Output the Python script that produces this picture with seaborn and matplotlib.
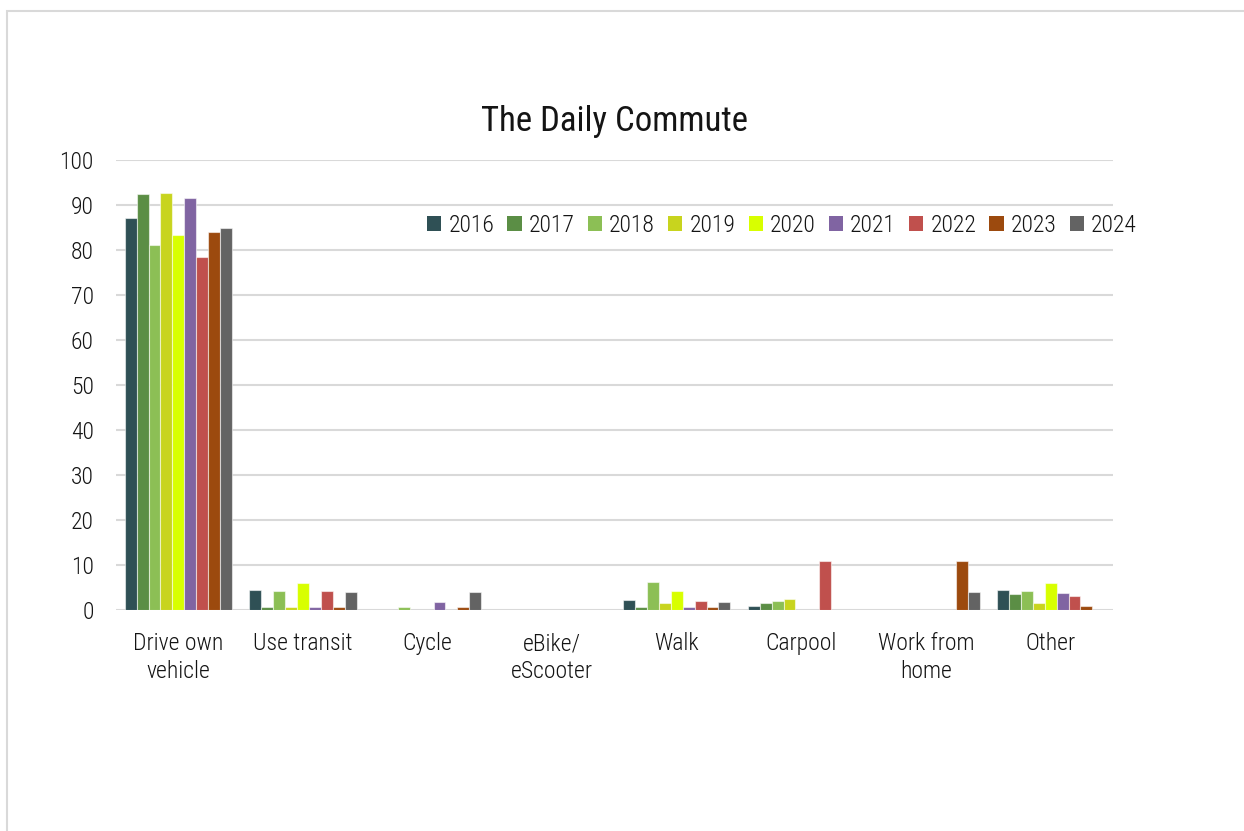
import matplotlib
matplotlib.use("Agg")
import matplotlib.pyplot as plt
from matplotlib import font_manager
from matplotlib.patches import Rectangle
import seaborn as sns
import pandas as pd

# Commute mode shares (%) by survey year
categories = ["Drive own\nvehicle", "Use transit", "Cycle", "eBike/\neScooter",
              "Walk", "Carpool", "Work from\nhome", "Other"]
years = ["2016", "2017", "2018", "2019", "2020", "2021", "2022", "2023", "2024"]
share_2016 = [87.0, 4.5, 0.0, 0.0, 2.2, 0.9, 0.0, 4.5]
share_2017 = [92.4, 0.6, 0.0, 0.0, 0.6, 1.6, 0.0, 3.5]
share_2018 = [81.0, 4.2, 0.7, 0.0, 6.3, 1.9, 0.0, 4.2]
share_2019 = [92.7, 0.6, 0.0, 0.0, 1.5, 2.5, 0.0, 1.5]
share_2020 = [83.3, 5.9, 0.0, 0.0, 4.2, 0.0, 0.0, 5.9]
share_2021 = [91.6, 0.7, 1.8, 0.0, 0.7, 0.0, 0.0, 3.8]
share_2022 = [78.4, 4.3, 0.0, 0.0, 2.1, 11.0, 0.0, 3.2]
share_2023 = [84.1, 0.7, 0.7, 0.0, 0.7, 0.0, 11.0, 0.8]
share_2024 = [84.8, 4.1, 4.1, 0.0, 1.8, 0.0, 4.1, 0.0]
colors = ["#2F5055", "#5B8E45", "#8CBF55", "#C8D41E", "#D8FF00",
          "#8064A2", "#C0504D", "#9C4A0E", "#636363"]
y_ticks = [0, 10, 20, 30, 40, 50, 60, 70, 80, 90, 100]

series = [share_2016, share_2017, share_2018, share_2019, share_2020,
          share_2021, share_2022, share_2023, share_2024]
rows = []
for yr, vals in zip(years, series):
    for cat, v in zip(categories, vals):
        rows.append({"mode": cat, "year": yr, "share": v})
df = pd.DataFrame(rows)

sns.set_theme(style="white")

# narrow sans-serif face, first one available
installed = {f.name for f in font_manager.fontManager.ttflist}
family = "Roboto"
for cand in ["Roboto Condensed", "Archivo Narrow", "Liberation Sans Narrow"]:
    if cand in installed:
        family = cand
        break
narrow = family != "Roboto"
plt.rcParams["font.family"] = [family, "DejaVu Sans"]
plt.rcParams["font.weight"] = "light"
fs = 17 if narrow else 15
text_color = "#141414"
grid_color = "#D9D9D9"

fig = plt.figure(figsize=(12.44, 8.31), dpi=100)
fig.patch.set_facecolor("white")

# chart frame (top and left edges)
W, H = 1244, 831
fig.add_artist(Rectangle((7 / W, -0.01), 1.05, (H - 11) / H + 0.01,
                         transform=fig.transFigure, fill=False,
                         edgecolor="#D9D9D9", linewidth=1.5))

ax = fig.add_axes([116 / W, (H - 610) / H, (1113 - 116) / W, 450 / H])
sns.barplot(data=df, x="mode", y="share", hue="year", order=categories,
            hue_order=years, palette=colors, width=0.86, ax=ax,
            edgecolor=(1, 1, 1, 0.55), linewidth=0.8, legend=True,
            saturation=1)
for p in ax.patches:
    if p.get_height() == 0:
        p.set_linewidth(0)

ax.set_ylim(0, 100)
ax.set_xlim(-0.5, len(categories) - 0.5)
ax.set_yticks(y_ticks)
ax.yaxis.grid(True, color=grid_color, linewidth=1.5)
ax.set_axisbelow(True)
for s in ["top", "right", "left", "bottom"]:
    ax.spines[s].set_visible(False)
ax.tick_params(axis="both", length=0, labelsize=fs, colors=text_color)
ax.tick_params(axis="x", pad=16)
ax.tick_params(axis="y", pad=16)
for lbl in ax.get_xticklabels():
    lbl.set_linespacing(1.25)
ax.set_xlabel("")
ax.set_ylabel("")

ax.set_title("The Daily Commute", fontsize=25 if narrow else 23,
             color=text_color, pad=21)

handles, labels = ax.get_legend_handles_labels()
ax.get_legend().remove()
fig.legend(handles, labels, loc="center left",
           bbox_to_anchor=(427 / W, (H - 225) / H), ncol=9, frameon=False,
           fontsize=fs, handlelength=0.6, handleheight=0.6,
           handletextpad=0.3, columnspacing=0.56 if narrow else 0.4,
           labelcolor=text_color, borderaxespad=0, borderpad=0)

fig.savefig("out.png", dpi=100, facecolor="white")
